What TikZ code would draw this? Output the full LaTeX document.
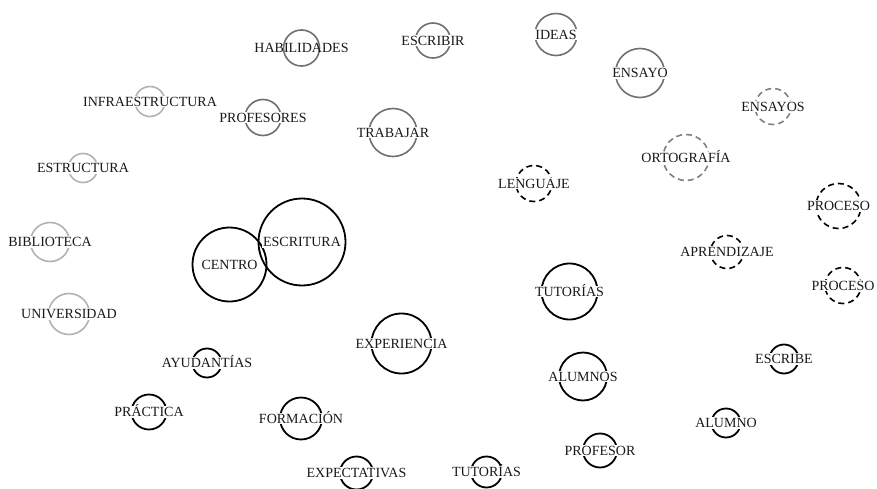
\documentclass[tikz,border=0pt]{standalone}
\usepackage{fontspec}
\setmainfont{Liberation Serif}
\usepackage{tikz}

\definecolor{darkring}{RGB}{112,112,112}
\definecolor{lightring}{RGB}{178,178,178}
\definecolor{dashring}{RGB}{128,128,128}

\tikzset{
	ring/.style = {circle, draw, inner sep = 0pt, outer sep = 0pt, line width = 1.6pt},
	ringblack/.style = {ring, draw = black, line width = 1.8pt},
	ringdark/.style = {ring, draw = darkring},
	ringlight/.style = {ring, draw = lightring},
	ringdash/.style = {ring, draw = black, dash pattern = on 6pt off 4pt},
	ringgraydash/.style = {ring, draw = dashring, dash pattern = on 6pt off 4pt},
	word/.style = {font = \fontsize{14}{14}\selectfont, text height = 9.3pt, text depth = 0pt,
		inner sep = 1pt, fill = white, text = black!90}
}

\begin{document}
\begin{tikzpicture}[x = 1pt, y = -1pt]
	\useasboundingbox (0,0) rectangle (877,489);

	% circle without halo
	\node [ringdark, minimum size = 36pt] (habring) at (301.5,48) {};
	\node [word, fill = none] (hab) at (habring) {HABILIDADES};

	\foreach \x/\y/\r/\s/\t [count = \i] in {
		433/40.5/17.5/ringdark/ESCRIBIR,
		556/34.5/21/ringdark/IDEAS,
		640/73/24.5/ringdark/ENSAYO,
		393/132.5/24/ringdark/TRABAJAR,
		263/117.5/18/ringdark/PROFESORES,
		150/101.5/15/ringlight/INFRAESTRUCTURA,
		83/168/14.5/ringlight/ESTRUCTURA,
		50/242/19.5/ringlight/BIBLIOTECA,
		69/314/20.5/ringlight/UNIVERSIDAD,
		773/106.5/18/ringgraydash/ENSAYOS,
		686/157.5/23/ringgraydash/ORTOGRAFÍA,
		534/183.5/18/ringdash/LENGUAJE,
		727/252/16.5/ringdash/APRENDIZAJE,
		838.5/206/22.5/ringdash/PROCESO,
		843/285.5/18/ringdash/PROCESO,
		229.5/264.5/37/ringblack/CENTRO,
		302/242/43.5/ringblack/ESCRITURA,
		569.5/291.5/28/ringblack/TUTORÍAS,
		401.5/343.5/30/ringblack/EXPERIENCIA,
		207/363/14.5/ringblack/AYUDANTÍAS,
		149/412/17.5/ringblack/PRÁCTICA,
		301/418.5/21/ringblack/FORMACIÓN,
		356.5/473/16.5/ringblack/EXPECTATIVAS,
		486.5/472/15.5/ringblack/TUTORÍAS,
		583/376.5/24/ringblack/ALUMNOS,
		600/450.5/17/ringblack/PROFESOR,
		784/359/14.5/ringblack/ESCRIBE,
		726/423/14.5/ringblack/ALUMNO}
	{
		\node [\s, minimum size = 2*\r pt] (ring\i) at (\x,\y) {};
		\node [word] (word\i) at (ring\i) {\t};
	}
\end{tikzpicture}
\end{document}
